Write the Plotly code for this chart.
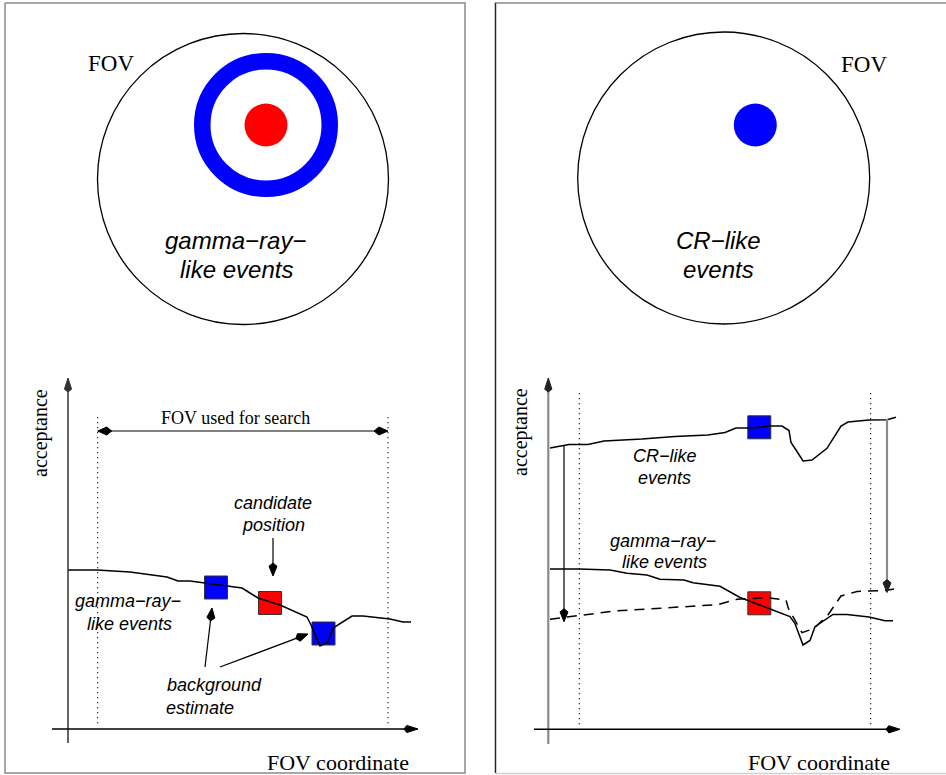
import math
import plotly.graph_objects as go

W, H = 946, 775

# ---------------- data (figure pixel units) ----------------
# left panel: gamma-ray-like acceptance curve
gl_x = [68, 97, 130, 147, 167, 178, 190, 205, 242, 258, 280, 307, 311, 320, 328, 333, 352, 363, 390, 403, 411]
gl_y = [570, 570, 572, 574, 577, 581, 581, 583, 588, 598, 605, 617, 625, 646, 642, 628, 616, 616, 619, 622, 622]

# right panel: CR-like acceptance curve
cr_x = [550, 569, 588, 604, 642, 675, 708, 725, 736, 753, 770, 782, 789, 791, 797, 803, 812, 827, 841, 848, 869, 887, 896]
cr_y = [448, 444.5, 444.5, 441, 439, 436.5, 435, 432.5, 428, 428, 426, 426, 430.5, 442.5, 451.5, 461, 460, 448.3, 426, 422, 420, 419.7, 417.3]

# right panel: gamma-ray-like acceptance curve
gr_x = [550, 579, 610, 627, 647, 660, 684, 693, 720, 740, 790, 795, 803, 810, 815, 833, 847, 869, 885, 893]
gr_y = [569, 569, 570, 573.3, 575, 579.3, 580, 582.7, 586.3, 597.5, 616.5, 623.5, 645, 640.5, 626.7, 614.5, 614.5, 617, 620.7, 620.7]

# right panel: scaled CR-like curve (dashed)
sc_x = [550, 579, 615, 665, 718, 737, 767, 786, 788.3, 796.7, 802, 814, 828.3, 841, 857, 885, 894]
sc_y = [619.2, 615.5, 611, 608, 604.5, 599.3, 597.7, 600, 608.3, 623.3, 632.7, 628.5, 614.5, 596, 591.5, 590.5, 589]

# squares (regions)
sq_x = [216, 270, 323.5, 759.3, 759.3]
sq_y = [587.5, 603, 633.5, 427.3, 603.3]
sq_c = ["#0000ff", "#ff0000", "#0000ff", "#0000ff", "#ff0000"]

# FOV circles
fov_cx = [243, 723.7]
fov_cy = [179, 178]
fov_r = [145.5, 146]

# source dots
dot_x = [266, 755.3]
dot_y = [125, 125]
dot_c = ["#ff0000", "#0000ff"]

# ring
ring_cx, ring_cy, ring_r, ring_w = 266, 125, 63.75, 16.5

fig = go.Figure()


def line(x, y, color="black", width=1.5, dash=None):
    fig.add_trace(go.Scatter(x=x, y=y, mode="lines",
                             line=dict(color=color, width=width, dash=dash),
                             hoverinfo="skip", showlegend=False))


def arrow(tail, tip, color="black", width=1.2, L=13, hw=4.0, wing=0.75, headcolor=None):
    (x0, y0), (x1, y1) = tail, tip
    d = math.hypot(x1 - x0, y1 - y0)
    ux, uy = (x1 - x0) / d, (y1 - y0) / d
    px, py = -uy, ux
    wx, wy = x1 - ux * L * wing, y1 - uy * L * wing
    line([x0, wx], [y0, wy], color, width)
    bx, by = x1 - ux * L, y1 - uy * L
    hc = headcolor or color
    fig.add_trace(go.Scatter(
        x=[x1, wx + px * hw, bx, wx - px * hw, x1],
        y=[y1, wy + py * hw, by, wy - py * hw, y1],
        mode="lines", fill="toself", fillcolor=hc,
        line=dict(color=hc, width=1), hoverinfo="skip", showlegend=False))


# frames
line([5, 465, 465, 5, 5], [3, 3, 773, 773, 3], "#8a8a8a", 1.5)
line([946, 495.5, 495.5], [3, 3, 773], "#8a8a8a", 1.5)
line([495.5, 495.5], [3, 773], "#222222", 1.2)
line([495.5, 946], [773.5, 773.5], "#d0d0d0", 1.5)

# squares (drawn beneath the curves)
fig.add_trace(go.Scatter(x=sq_x, y=sq_y, mode="markers",
                         marker=dict(symbol="square", size=23, color=sq_c,
                                     line=dict(color="#333333", width=1)),
                         hoverinfo="skip", showlegend=False))

# dots
fig.add_trace(go.Scatter(x=dot_x, y=dot_y, mode="markers",
                         marker=dict(symbol="circle", size=43, color=dot_c, line=dict(width=0)),
                         hoverinfo="skip", showlegend=False))

# dotted FOV limits
for xv, y0, y1 in [(97.7, 417, 725), (388, 417, 725), (579.3, 393, 727), (870.7, 393, 727)]:
    line([xv, xv], [y0, y1], "black", 1, "1.3px,3.7px")

# curves
line(gl_x, gl_y, "black", 1.5)
line(cr_x, cr_y, "black", 1.5)
line(gr_x, gr_y, "black", 1.5)
line(sc_x, sc_y, "black", 1.5, "10px,7px")

# axes arrows
arrow((68, 743), (68, 378), "#333333", 1.5, L=14, hw=3.6, wing=0.8)
arrow((52, 729), (418, 729), "black", 1.5, L=14, hw=3.6, wing=0.8)
arrow((548.3, 744), (548.3, 378), "#8a8a8a", 2.2, L=14, hw=3.6, wing=0.8, headcolor="#222222")
arrow((534, 729.3), (900, 729.3), "black", 1.5, L=14, hw=3.6, wing=0.8)

# annotation arrows
arrow((235, 431), (97.7, 431), "black", 1.2, L=14, hw=4, wing=0.65)
arrow((235, 431), (388, 431), "black", 1.2, L=14, hw=4, wing=0.65)
arrow((273, 538), (273, 576), "black", 1.2)
arrow((205, 667), (212, 608), "black", 1.2)
arrow((220, 667), (308, 634), "black", 1.2)
arrow((564, 445), (564, 621.7), "black", 1.2)
arrow((887, 419), (887, 592.5), "#8a8a8a", 2.2, headcolor="#222222")

shapes = []
for cx, cy, r in zip(fov_cx, fov_cy, fov_r):
    shapes.append(dict(type="circle", xref="x", yref="y", x0=cx - r, x1=cx + r, y0=cy - r, y1=cy + r,
                       line=dict(color="black", width=1.3), layer="below"))
shapes.append(dict(type="circle", xref="x", yref="y",
                   x0=ring_cx - ring_r, x1=ring_cx + ring_r, y0=ring_cy - ring_r, y1=ring_cy + ring_r,
                   line=dict(color="#0000ff", width=ring_w), layer="below"))

SERIF = "Liberation Serif, Times New Roman, serif"
SANS = "Liberation Sans, Arial, sans-serif"
ann = []


def text(s, x, y, size, font=SANS, italic=True, xanchor="center", angle=0):
    t = "<i>%s</i>" % s if italic else s
    ann.append(dict(text=t, x=x, y=y, xref="x", yref="y", showarrow=False,
                    xanchor=xanchor, yanchor="middle", textangle=angle,
                    font=dict(family=font, size=size, color="black")))


M = "\u2212"
# top panels
text("FOV", 111, 63, 23, SERIF, False)
text("gamma%sray%s" % (M, M), 235.5, 240, 24)
text("like events", 236, 269, 24)
text("FOV", 863.7, 64, 23, SERIF, False)
text("CR%slike" % M, 718.3, 240, 24)
text("events", 718, 269, 24)

# bottom left
text("acceptance", 40, 433, 20, SERIF, False, angle=-90)
text("FOV used for search", 235, 418, 18, SERIF, False)
text("candidate", 273, 503, 18)
text("position", 273, 525, 18)
text("gamma%sray%s" % (M, M), 128, 601, 18)
text("like events", 129, 624, 18)
text("background", 164.5, 685, 18, xanchor="left")
text("estimate", 163.5, 708, 18, xanchor="left")
text("FOV coordinate", 411, 762, 22, SERIF, False, xanchor="right")

# bottom right
text("acceptance", 520, 432, 20, SERIF, False, angle=-90)
text("CR%slike" % M, 664.5, 456, 18)
text("events", 664.3, 478, 18)
text("gamma%sray%s" % (M, M), 663.3, 541, 18)
text("like events", 664, 562, 18)
text("FOV coordinate", 892, 762, 22, SERIF, False, xanchor="right")

fig.update_layout(
    width=W, height=H, autosize=False,
    margin=dict(l=0, r=0, t=0, b=0, pad=0),
    paper_bgcolor="white", plot_bgcolor="white",
    xaxis=dict(range=[0, W], visible=False, fixedrange=True),
    yaxis=dict(range=[H, 0], visible=False, fixedrange=True),
    showlegend=False, hovermode=False,
    shapes=shapes, annotations=ann,
)

fig.write_html("out.html", config={"displayModeBar": False},
               post_script="document.body.style.margin='0px';document.body.style.overflow='hidden';")
